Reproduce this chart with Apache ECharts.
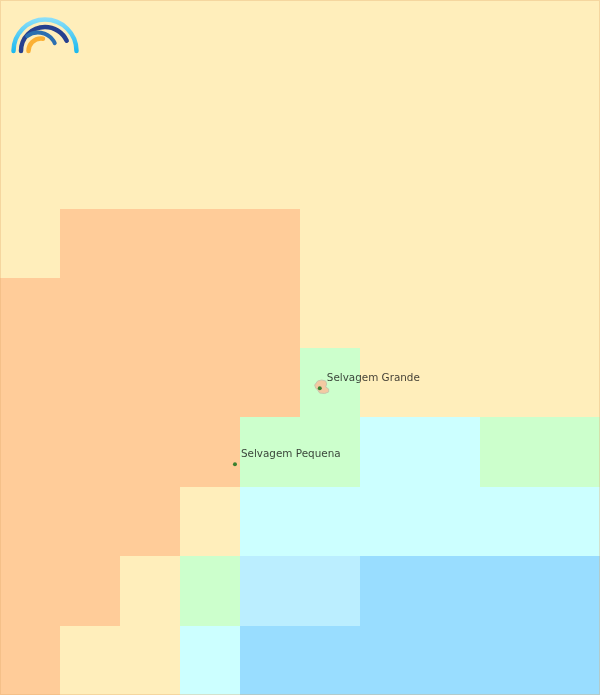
<!DOCTYPE html>
<html><head><meta charset="utf-8">
<style>html,body{margin:0;padding:0;background:#FFEEBB}#c{width:600px;height:695px}</style>
<script src="https://cdn.jsdelivr.net/npm/echarts@6/dist/echarts.min.js"></script>
</head><body><div id="c"></div>
<script>
// depth classes per cell: 0 sand, 1 orange, 2 green, 3 cyan, 4 light blue, 5 blue
const classColors = ['#FFEEBB','#FFCC99','#CCFFCC','#CCFFFF','#BBEEFF','#99DDFF'];
const row0 = [0,0,0,0,0,0,0,0,0,0];
const row1 = [0,0,0,0,0,0,0,0,0,0];
const row2 = [0,0,0,0,0,0,0,0,0,0];
const row3 = [0,1,1,1,1,0,0,0,0,0];
const row4 = [1,1,1,1,1,0,0,0,0,0];
const row5 = [1,1,1,1,1,2,0,0,0,0];
const row6 = [1,1,1,1,2,2,3,3,2,2];
const row7 = [1,1,1,0,3,3,3,3,3,3];
const row8 = [1,1,0,2,4,4,5,5,5,5];
const row9 = [1,0,0,3,5,5,5,5,5,5];
const rows = [row0,row1,row2,row3,row4,row5,row6,row7,row8,row9];
const placeNames = ['Selvagem Grande','Selvagem Pequena'];
const placeX = [5.335,3.92];
const placeY = [5.585,6.68];
const islandX = [5.30,5.367,5.433,5.45,5.433,5.483,5.483,5.417,5.333,5.30,5.267,5.25];
const islandY = [5.482,5.468,5.482,5.525,5.568,5.597,5.640,5.662,5.655,5.612,5.583,5.540];

const cells = [];
rows.forEach((r,y)=>r.forEach((v,x)=>cells.push([x,y,v])));
const island = islandX.map((x,i)=>[x,islandY[i]]);
const places = placeNames.map((n,i)=>({name:n,value:[placeX[i],placeY[i]]}));

const chart = echarts.init(document.getElementById('c'),null,{renderer:'canvas'});
chart.setOption({
  animation:false,
  backgroundColor:'#FFEEBB',
  grid:{left:-0.6,width:600,top:0,height:695},
  xAxis:{type:'value',min:0,max:10,show:false},
  yAxis:{type:'value',min:0,max:10,inverse:true,show:false},
  series:[
    {type:'custom',coordinateSystem:'cartesian2d',silent:true,z:1,clip:false,
     data:cells,encode:{x:0,y:1},
     renderItem(p,api){
       const a=api.coord([api.value(0),api.value(1)]);
       const b=api.coord([api.value(0)+1,api.value(1)+1]);
       const x0=Math.round(a[0]), y0=Math.round(a[1]), x1=Math.round(b[0])+(api.value(0)===9?1:0), y1=Math.round(b[1]);
       return {type:'rect',shape:{x:x0,y:y0,width:x1-x0,height:y1-y0},
         style:{fill:classColors[api.value(2)]}};
     }},
    {type:'custom',coordinateSystem:'cartesian2d',silent:true,z:2,
     data:[0],
     renderItem(p,api){
       return {type:'polygon',shape:{points:island.map(q=>api.coord(q))},
         style:{fill:'#F3C9A2',stroke:'#C9C6AE',lineWidth:1}};
     }},
    {type:'scatter',z:3,symbolSize:4,silent:true,
     itemStyle:{color:'#0A6E14'},data:places,
     label:{show:true,position:'right',distance:0,fontFamily:'DejaVu Sans',fontSize:10.4,color:'#111',
       formatter:'{b}'},
     labelLayout(params){
       return params.dataIndex===0 ? {dx:5,dy:-10} : {dx:4,dy:-10};
     }}
  ],
  graphic:[
    {type:'rect',z:90,silent:true,shape:{x:0,y:0,width:600,height:695},
     style:{fill:'rgba(0,0,0,0)',stroke:'rgba(225,170,110,0.35)',lineWidth:2}},
    {type:'arc',z:100,silent:true,shape:{cx:45,cy:51,r:31.5,startAngle:Math.PI,endAngle:2*Math.PI,clockwise:true},
     style:{fill:'rgba(0,0,0,0)',lineWidth:4.5,lineCap:'round',stroke:new echarts.graphic.LinearGradient(0,0,0,1,[{offset:0,color:'#8FE0FA'},{offset:1,color:'#18B8EE'}])}},
    {type:'arc',z:101,silent:true,shape:{cx:45,cy:51,r:24,startAngle:Math.PI,endAngle:Math.PI*1.86,clockwise:true},
     style:{fill:'rgba(0,0,0,0)',lineWidth:4.5,lineCap:'round',stroke:'#27408F'}},
    {type:'arc',z:102,silent:true,shape:{cx:38,cy:51,r:18.5,startAngle:Math.PI*1.3,endAngle:Math.PI*1.86,clockwise:true},
     style:{fill:'rgba(0,0,0,0)',lineWidth:4,lineCap:'round',stroke:'#2C6FB0'}},
    {type:'arc',z:103,silent:true,shape:{cx:41,cy:51,r:12.5,startAngle:Math.PI,endAngle:Math.PI*1.55,clockwise:true},
     style:{fill:'rgba(0,0,0,0)',lineWidth:4.5,lineCap:'round',stroke:'#FBB034'}}
  ]
});
</script></body></html>
